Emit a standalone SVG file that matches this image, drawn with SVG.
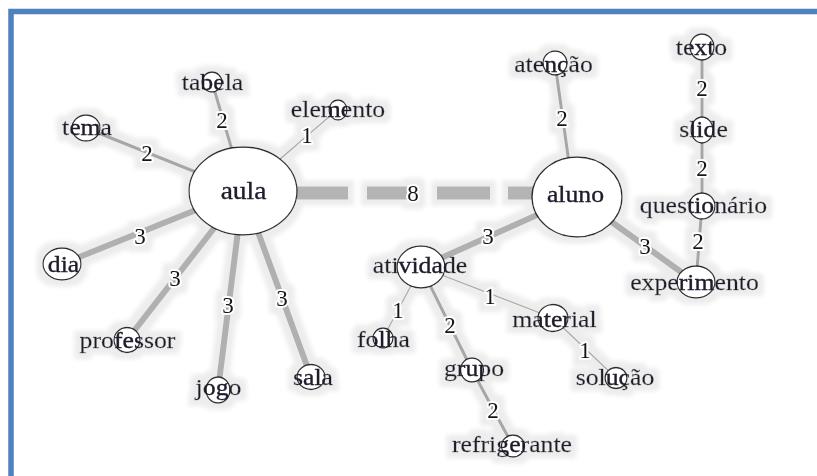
<svg xmlns="http://www.w3.org/2000/svg" width="817" height="476" viewBox="0 0 817 476">
<defs>
<filter id="halo" x="-5%" y="-5%" width="110%" height="110%">
<feMorphology in="SourceAlpha" operator="dilate" radius="6" result="d"/>
<feGaussianBlur in="d" stdDeviation="2" result="b"/>
<feFlood flood-color="#ededed"/>
<feComposite in2="b" operator="in" result="h"/>
<feMerge><feMergeNode in="h"/><feMergeNode in="SourceGraphic"/></feMerge>
</filter>
<style>
.n{fill:#fff;stroke:#2e2e2e;stroke-width:1.3}
.t{font-family:"Liberation Serif","Times New Roman",serif;font-size:23px;fill:#1b1b2b;stroke:#1b1b2b;stroke-width:0.35;text-anchor:middle}
.w{font-family:"Liberation Serif","Times New Roman",serif;font-size:23px;fill:#151515;text-anchor:middle;stroke:#fff;stroke-width:4;paint-order:stroke;stroke-linejoin:round}
.e1{stroke:#a8a8a8;stroke-width:1.2;fill:none}
.e2{stroke:#a6a6a6;stroke-width:3;fill:none}
.e3{stroke:#b0b0b0;stroke-width:6;fill:none}
.e8{stroke:#b4b4b4;stroke-width:13;fill:none}
</style>
</defs>
<rect width="817" height="476" fill="#fff"/>
<path d="M11 476 V11.5 H817" fill="none" stroke="#4f81bd" stroke-width="5.5"/>
<g filter="url(#halo)">
<g id="connectors">
<line class="e2" x1="86" y1="128" x2="243" y2="191"/>
<line class="e2" x1="212" y1="82" x2="232" y2="150"/>
<line class="e1" x1="337" y1="110" x2="243" y2="191"/>
<line class="e3" x1="62" y1="264" x2="243" y2="191"/>
<line class="e3" x1="127" y1="340" x2="243" y2="191"/>
<line class="e3" x1="218" y1="390" x2="243" y2="191"/>
<line class="e3" x1="311" y1="377" x2="243" y2="191"/>
<path class="e8" d="M297 193 H348 M367 193 H407 M437 193 H490 M508 193 H540"/>
<line class="e2" x1="555" y1="63" x2="570" y2="170"/>
<line class="e2" x1="702" y1="47" x2="702" y2="206"/>
<line class="e2" x1="702" y1="206" x2="696" y2="282"/>
<line class="e3" x1="577" y1="197" x2="695" y2="282"/>
<line class="e3" x1="577" y1="197" x2="421" y2="267"/>
<line class="e1" x1="421" y1="267" x2="383" y2="338"/>
<line class="e2" x1="421" y1="267" x2="472" y2="370"/>
<line class="e1" x1="421" y1="267" x2="553" y2="318"/>
<line class="e2" x1="472" y1="370" x2="513" y2="446"/>
<line class="e1" x1="553" y1="318" x2="616" y2="378"/>
<text class="w" x="147" y="161">2</text>
<text class="w" x="222" y="128">2</text>
<text class="w" x="307" y="143">1</text>
<text class="w" x="140" y="244">3</text>
<text class="w" x="175" y="286">3</text>
<text class="w" x="228" y="313">3</text>
<text class="w" x="282" y="306">3</text>
<text class="w" x="413" y="201">8</text>
<text class="w" x="562" y="126">2</text>
<text class="w" x="702" y="96">2</text>
<text class="w" x="702" y="176">2</text>
<text class="w" x="698" y="249">2</text>
<text class="w" x="645" y="254">3</text>
<text class="w" x="488" y="244">3</text>
<text class="w" x="398" y="318">1</text>
<text class="w" x="450" y="333">2</text>
<text class="w" x="490" y="304">1</text>
<text class="w" x="493" y="418">2</text>
<text class="w" x="585" y="358">1</text>
</g>
<g id="aula"><ellipse class="n" cx="243" cy="191" rx="54" ry="44"/><text class="t" style="font-size:24.5px" transform="translate(243.5 199) scale(1.12 1)">aula</text></g>
<g id="aluno"><ellipse class="n" cx="577" cy="197" rx="45" ry="40"/><text class="t" transform="translate(575.5 202) scale(1.12 1)">aluno</text></g>
<g id="tema"><ellipse class="n" cx="86" cy="128" rx="14" ry="13"/><text class="t" transform="translate(87 135) scale(1.12 1)">tema</text></g>
<g id="tabela"><ellipse class="n" cx="212" cy="82" rx="10" ry="10"/><text class="t" transform="translate(212.5 90) scale(1.12 1)">tabela</text></g>
<g id="elemento"><ellipse class="n" cx="338" cy="110" rx="9" ry="10"/><text class="t" transform="translate(338 117) scale(1.12 1)">elemento</text></g>
<g id="dia"><ellipse class="n" cx="62" cy="264" rx="19" ry="16"/><text class="t" transform="translate(63.5 272) scale(1.12 1)">dia</text></g>
<g id="professor"><ellipse class="n" cx="127" cy="340" rx="13" ry="12.5"/><text class="t" transform="translate(127.5 348) scale(1.12 1)">professor</text></g>
<g id="jogo"><ellipse class="n" cx="218" cy="390" rx="12" ry="13"/><text class="t" transform="translate(218.5 395) scale(1.12 1)">jogo</text></g>
<g id="sala"><ellipse class="n" cx="311" cy="377" rx="14" ry="12.5"/><text class="t" transform="translate(313 385) scale(1.12 1)">sala</text></g>
<g id="atencao"><ellipse class="n" cx="555" cy="63" rx="12" ry="12"/><text class="t" transform="translate(553.5 72) scale(1.12 1)">atenção</text></g>
<g id="texto"><ellipse class="n" cx="702" cy="47" rx="12" ry="13"/><text class="t" transform="translate(701.5 55) scale(1.12 1)">texto</text></g>
<g id="slide"><ellipse class="n" cx="702" cy="130" rx="11" ry="13"/><text class="t" transform="translate(703.5 137) scale(1.12 1)">slide</text></g>
<g id="questionario"><ellipse class="n" cx="702" cy="206" rx="13" ry="13"/><text class="t" transform="translate(703.5 213) scale(1.12 1)">questionário</text></g>
<g id="experimento"><ellipse class="n" cx="696" cy="282" rx="19" ry="16"/><text class="t" transform="translate(694.5 290) scale(1.12 1)">experimento</text></g>
<g id="atividade"><ellipse class="n" cx="421" cy="267" rx="24" ry="21"/><text class="t" transform="translate(420 273) scale(1.12 1)">atividade</text></g>
<g id="folha"><ellipse class="n" cx="383" cy="338" rx="10" ry="10"/><text class="t" transform="translate(383.5 347) scale(1.12 1)">folha</text></g>
<g id="grupo"><ellipse class="n" cx="472" cy="370" rx="11.5" ry="12"/><text class="t" transform="translate(474 376) scale(1.12 1)">grupo</text></g>
<g id="refrigerante"><ellipse class="n" cx="513" cy="446" rx="11.5" ry="11"/><text class="t" transform="translate(512 452) scale(1.12 1)">refrigerante</text></g>
<g id="material"><ellipse class="n" cx="553" cy="318" rx="15" ry="13.5"/><text class="t" transform="translate(554.5 327) scale(1.12 1)">material</text></g>
<g id="solucao"><ellipse class="n" cx="616" cy="378" rx="11" ry="10.5"/><text class="t" transform="translate(615 385) scale(1.12 1)">solução</text></g>
</g>
</svg>
